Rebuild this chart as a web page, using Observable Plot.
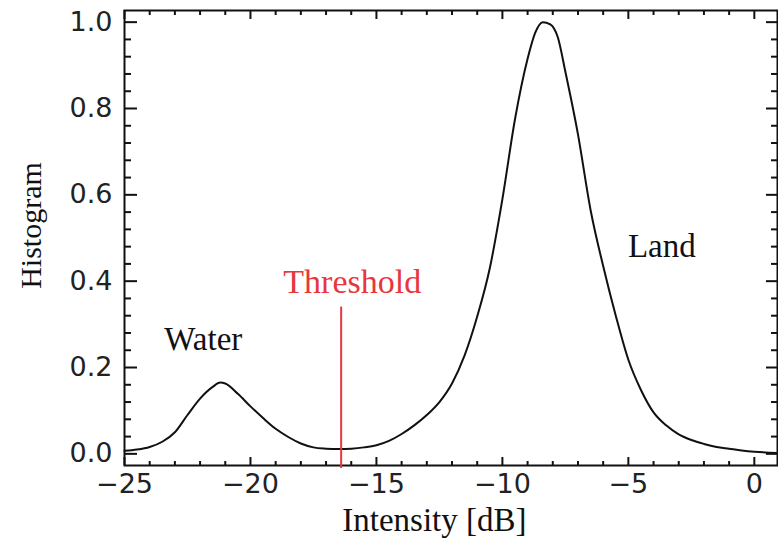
<!DOCTYPE html>
<html><head><meta charset="utf-8">
<script src="https://cdn.jsdelivr.net/npm/d3@7"></script>
<script src="https://cdn.jsdelivr.net/npm/@observablehq/plot@0.6"></script>
<style>body{margin:0;background:#fff} #chart svg{display:block}</style>
</head><body><div id="chart"></div>
<script>
// Curve samples
const intensity = [-25, -24.5, -24, -23.5, -23, -22.5, -22, -21.5, -21.2, -21, -20.5, -20, -19.5, -19, -18.5, -18, -17.5, -17, -16.5, -16, -15.5, -15, -14.5, -14, -13.5, -13, -12.5, -12, -11.5, -11, -10.5, -10, -9.5, -9, -8.7, -8.4, -8.1, -7.8, -7.5, -7, -6.5, -6, -5.5, -5, -4.5, -4, -3.5, -3, -2.5, -2, -1.5, -1, -0.5, 0, 0.92];
const histogram = [0.007, 0.010, 0.016, 0.028, 0.050, 0.090, 0.128, 0.155, 0.165, 0.163, 0.139, 0.110, 0.083, 0.058, 0.039, 0.024, 0.015, 0.012, 0.011, 0.012, 0.015, 0.020, 0.030, 0.046, 0.066, 0.090, 0.120, 0.163, 0.228, 0.318, 0.430, 0.590, 0.775, 0.915, 0.975, 1.0, 0.995, 0.965, 0.885, 0.740, 0.565, 0.435, 0.320, 0.218, 0.148, 0.096, 0.066, 0.045, 0.032, 0.023, 0.016, 0.012, 0.008, 0.005, 0.002];

const xMajorTicks = [-25, -20, -15, -10, -5, 0];
const xMinorTicks = [-24, -23, -22, -21, -19, -18, -17, -16, -14, -13, -12, -11, -9, -8, -7, -6, -4, -3, -2, -1];
const yMajorTicks = [0, 0.2, 0.4, 0.6, 0.8, 1.0];
const yMinorTicks = [0.04, 0.08, 0.12, 0.16, 0.24, 0.28, 0.32, 0.36, 0.44, 0.48, 0.52, 0.56, 0.64, 0.68, 0.72, 0.76, 0.84, 0.88, 0.92, 0.96];

const thresholdX = -16.4;
const thresholdTop = 0.34;
const labelNames = ["Water", "Land"];
const labelX = [-21.87, -3.67];
const labelY = [0.24, 0.457];
const thresholdName = "Threshold";
const thresholdLabelX = -15.96;
const thresholdLabelY = 0.372;
const xTitle = "Intensity [dB]";
const yTitle = "Histogram";

const X0 = -25, X1 = 0.92, Y0 = -0.027, Y1 = 1.027;
const W = 778, H = 541, ML = 124, MR = 1, MT = 10, MB = 76;
const ux = (X1 - X0) / (W - ML - MR);   // data units per px
const uy = (Y1 - Y0) / (H - MT - MB);

const curve = intensity.map((x, i) => ({x, y: histogram[i]}));
const minus = d => d < 0 ? "\u2212" + Math.abs(d) : String(d);
const ink = "#111";
const serif = "Liberation Serif, Times New Roman, serif";
const sans = "DejaVu Sans, sans-serif";

const chart = Plot.plot({
  width: W, height: H,
  marginLeft: ML, marginRight: MR, marginTop: MT, marginBottom: MB,
  x: {domain: [X0, X1]},
  y: {domain: [Y0, Y1]},
  style: {background: "#fff", color: ink},
  marks: [
    // tick labels
    Plot.axisX({ticks: xMajorTicks, tickSize: 0, tickPadding: 8, tickFormat: minus, label: null, fontSize: 27, fontFamily: sans, fill: "#222"}),
    Plot.axisY({ticks: yMajorTicks, tickSize: 0, tickPadding: 12, tickFormat: d3.format(".1f"), label: null, fontSize: 27, fontFamily: sans, fill: "#222"}),
    // inward ticks: bottom / top
    Plot.ruleX(xMajorTicks, {x: d => d, y1: Y0, y2: Y0 + 8 * uy, stroke: ink, strokeWidth: 2}),
    Plot.ruleX(xMinorTicks, {x: d => d, y1: Y0, y2: Y0 + 4 * uy, stroke: ink, strokeWidth: 2}),
    Plot.ruleX(xMajorTicks, {x: d => d, y1: Y1, y2: Y1 - 9 * uy, stroke: ink, strokeWidth: 2}),
    Plot.ruleX(xMinorTicks, {x: d => d, y1: Y1, y2: Y1 - 5 * uy, stroke: ink, strokeWidth: 2}),
    // inward ticks: left / right
    Plot.ruleY(yMajorTicks, {y: d => d, x1: X0, x2: X0 + 13 * ux, stroke: ink, strokeWidth: 2}),
    Plot.ruleY(yMinorTicks, {y: d => d, x1: X0, x2: X0 + 7 * ux, stroke: ink, strokeWidth: 2}),
    Plot.ruleY(yMajorTicks, {y: d => d, x1: X1, x2: X1 - 11 * ux, stroke: ink, strokeWidth: 2}),
    Plot.ruleY(yMinorTicks, {y: d => d, x1: X1, x2: X1 - 6 * ux, stroke: ink, strokeWidth: 2}),
    Plot.frame({stroke: ink, strokeWidth: 2}),
    // curve
    Plot.line(curve, {x: "x", y: "y", stroke: ink, strokeWidth: 2, curve: "monotone-x"}),
    // threshold
    Plot.ruleX([thresholdX], {x: d => d, y1: thresholdTop, y2: Y0 - 3 * uy, stroke: "#e8363c", strokeWidth: 2}),
    Plot.text([thresholdName], {x: thresholdLabelX, y: thresholdLabelY, text: d => d, lineAnchor: "bottom", fontSize: 34, fontFamily: serif, fill: "#e8363c"}),
    // annotations
    Plot.text(labelNames, {x: (d, i) => labelX[i], y: (d, i) => labelY[i], text: d => d, lineAnchor: "bottom", fontSize: 33, fontFamily: serif, fill: ink}),
    // axis titles
    Plot.text([xTitle], {x: -12.7, frameAnchor: "bottom", dy: 65, lineAnchor: "bottom", textAnchor: "middle", text: d => d, fontSize: 33, fontFamily: serif, fill: ink, letterSpacing: "2px"}),
    Plot.text([yTitle], {y: 0.529, frameAnchor: "left", dx: -93, rotate: -90, textAnchor: "middle", text: d => d, fontSize: 30, fontFamily: serif, fill: ink})
  ]
});
document.getElementById("chart").append(chart);
</script>
</body></html>
